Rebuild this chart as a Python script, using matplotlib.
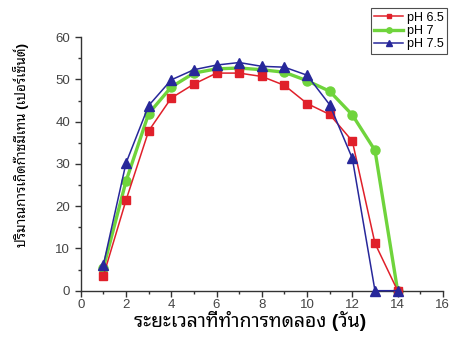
import matplotlib
matplotlib.use('Agg')
import matplotlib.pyplot as plt
from matplotlib.ticker import MultipleLocator

# days of the experiment and methane percentage for each pH
days = [1, 2, 3, 4, 5, 6, 7, 8, 9, 10, 11, 12, 13, 14]
ph65 = [3.5, 21.4, 37.8, 45.6, 48.9, 51.5, 51.5, 50.7, 48.6, 44.3, 41.7, 35.4, 11.2, 0]
ph7 = [5.4, 25.9, 41.9, 48.2, 51.5, 52.5, 52.7, 52.3, 51.7, 49.7, 47.2, 41.6, 33.2, 0]
ph75 = [6.1, 30.2, 43.8, 49.9, 52.3, 53.4, 54.0, 53.1, 52.9, 51.0, 44.0, 31.3, 0, 0]
labels = ['pH 6.5', 'pH 7', 'pH 7.5']

thai = ['Liberation Sans', 'Noto Sans Thai Looped']
plt.rcParams['font.family'] = thai

fig = plt.figure(figsize=(4.51, 3.38), dpi=100)
ax = fig.add_axes([0.179, 0.140, 0.803, 0.750])

ax.plot(days, ph7, color='#6fd43c', lw=2.4, marker='o', ms=6.5, zorder=2,
        clip_on=False, label=labels[1])
ax.plot(days, ph65, color='#e0202a', lw=1.1, marker='s', ms=6, zorder=3,
        clip_on=False, label=labels[0])
ax.plot(days, ph75, color='#27279a', lw=1.1, marker='^', ms=6.5, zorder=4,
        clip_on=False, label=labels[2])

ax.set_xlim(0, 16)
ax.set_ylim(0, 60)
ax.xaxis.set_major_locator(MultipleLocator(2))
ax.xaxis.set_minor_locator(MultipleLocator(1))
ax.yaxis.set_major_locator(MultipleLocator(10))
ax.yaxis.set_minor_locator(MultipleLocator(5))
for s in ['top', 'right']:
    ax.spines[s].set_visible(False)
for s in ['left', 'bottom']:
    ax.spines[s].set_linewidth(1.0)
    ax.spines[s].set_color('#333333')
ax.tick_params(which='major', direction='out', length=4, width=1, labelsize=9.5,
               colors='#333333', labelcolor='#444444')
ax.tick_params(which='minor', direction='out', length=2.5, width=1, colors='#333333')
ax.tick_params(axis='x', pad=2)

ax.set_xlabel('ระยะเวลาที่ทำการทดลอง (วัน)', fontsize=14, fontweight='bold', family=thai)
ax.set_ylabel('ปริมาณการเกิดก๊าซมีเทน (เปอร์เซ็นต์)', fontsize=9.7, fontweight='bold', family=thai)
ax.xaxis.set_label_coords(0.468, -0.078)
ax.yaxis.set_label_coords(-0.142, 0.575)

h, l = ax.get_legend_handles_labels()
order = [1, 0, 2]
leg = fig.legend([h[i] for i in order], [l[i] for i in order], loc='upper left',
                 bbox_to_anchor=(0.808, 0.995), fontsize=9, frameon=True, fancybox=False,
                 borderpad=0.3, labelspacing=0.1, handlelength=2.3, handletextpad=0.3,
                 markerscale=0.6)
leg.get_frame().set_edgecolor('#222222')
leg.get_frame().set_linewidth(0.8)

fig.savefig('out.png', dpi=100)
